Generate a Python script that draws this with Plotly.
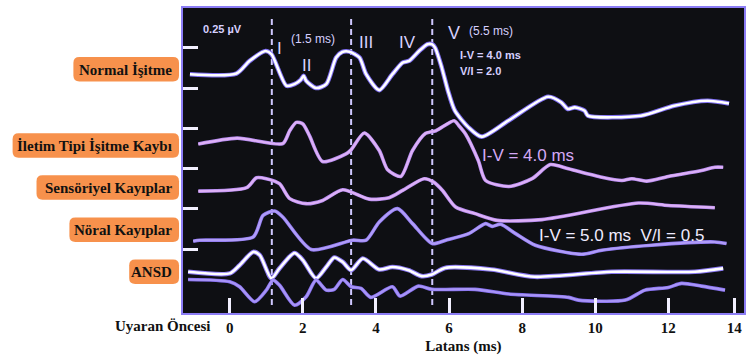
import plotly.graph_objects as go

# ---------------- data (latency in ms, amplitude in µV, offset per trace) ----------------
normal_t = [-1.09, 0.18, 0.545, 0.98, 1.14, 1.55, 1.77, 1.94, 2.02, 2.09, 2.36, 2.64, 2.91, 3.08, 3.27,
            3.55, 3.73, 4.09, 4.45, 4.73, 4.91, 5.18, 5.41, 5.54, 5.62, 5.80, 5.97, 6.16, 6.53, 6.89,
            7.62, 8.71, 9.07, 9.25, 9.44, 9.71, 9.80, 11.25, 12.16, 13.07, 13.66]
normal_a = [1.587, 1.591, 1.670, 1.731, 1.711, 1.515, 1.525, 1.552, 1.577, 1.546, 1.501, 1.525, 1.690, 1.725, 1.727,
            1.690, 1.587, 1.488, 1.587, 1.659, 1.670, 1.731, 1.773, 1.772, 1.750, 1.628, 1.484, 1.360, 1.257, 1.199,
            1.298, 1.447, 1.412, 1.371, 1.381, 1.360, 1.329, 1.329, 1.391, 1.422, 1.405]

conductive_t = [-0.86, 0.20, 1.45, 1.64, 1.82, 2.00, 2.18, 2.54, 3.18, 3.32, 3.68, 4.09, 4.32, 4.68, 5.00,
                5.36, 5.64, 6.14, 6.27, 6.45, 6.80, 7.00, 7.64, 8.27, 8.77, 9.27, 10.18, 10.73, 11.00,
                11.41, 12.00, 12.91, 13.27, 13.50]
conductive_a = [1.153, 1.190, 1.156, 1.236, 1.288, 1.278, 1.205, 1.045, 1.092, 1.117, 1.222, 1.113, 0.993, 0.952, 1.113,
                1.220, 1.236, 1.298, 1.267, 1.216, 1.051, 0.927, 0.890, 0.938, 1.026, 0.999, 0.947, 0.927, 0.938,
                0.923, 0.952, 0.989, 1.009, 1.009]

sensory_t = [-0.86, 0.46, 0.73, 1.00, 1.36, 1.64, 2.09, 2.54, 3.09, 3.82, 4.36, 4.73, 5.32, 5.59, 5.82,
             6.18, 6.71, 7.32, 8.54, 11.18, 12.00, 13.27]
sensory_a = [0.861, 0.882, 0.944, 0.938, 0.907, 0.814, 0.783, 0.803, 0.869, 0.811, 0.820, 0.865, 0.938, 0.915, 0.865,
             0.762, 0.721, 0.679, 0.684, 0.787, 0.772, 0.758]

neural_t = [-1.00, -0.82, 0.64, 0.91, 1.23, 1.45, 2.23, 3.36, 3.73, 4.09, 4.59, 5.00, 5.54, 5.91, 6.54,
            7.00, 7.18, 7.41, 7.82, 8.36, 9.63, 10.18, 11.54, 13.27, 13.59]
neural_a = [0.550, 0.556, 0.576, 0.710, 0.737, 0.700, 0.498, 0.556, 0.556, 0.669, 0.752, 0.659, 0.535, 0.556, 0.597,
            0.659, 0.642, 0.655, 0.597, 0.525, 0.469, 0.494, 0.525, 0.545, 0.535]

ansd_c_t = [-1.14, 0.00, 0.27, 0.64, 0.82, 1.14, 1.36, 1.77, 2.00, 2.36, 2.64, 2.86, 3.09, 3.32, 3.64,
            4.09, 4.45, 4.89, 5.25, 5.53, 5.89, 7.16, 8.34, 10.45, 12.73, 13.50]
ansd_c_a = [0.360, 0.350, 0.401, 0.483, 0.463, 0.319, 0.381, 0.477, 0.432, 0.319, 0.390, 0.449, 0.421, 0.370, 0.442,
            0.374, 0.390, 0.370, 0.333, 0.343, 0.384, 0.374, 0.329, 0.360, 0.360, 0.381]

ansd_r_t = [-1.14, 0.00, 0.27, 0.68, 1.00, 1.18, 1.36, 1.77, 2.09, 2.36, 2.64, 2.86, 3.09, 3.32, 3.59,
            3.86, 4.45, 4.66, 5.16, 5.53, 6.71, 7.64, 9.27, 9.54, 10.82, 11.36, 12.00, 12.36, 12.91, 13.55]
ansd_r_a = [0.312, 0.298, 0.267, 0.174, 0.246, 0.308, 0.277, 0.153, 0.205, 0.308, 0.246, 0.251, 0.312, 0.267, 0.257,
            0.201, 0.267, 0.209, 0.271, 0.251, 0.251, 0.222, 0.201, 0.184, 0.184, 0.246, 0.263, 0.288, 0.271, 0.246]

peak_latencies = [1.15, 3.32, 5.54]          # dashed markers for waves I, III, V
tick_pos = [0, 2, 4, 6, 8, 10, 12, 13.8]
tick_text = ["0", "2", "4", "6", "8", "10", "12", "14"]
scale_ticks = [0.5, 0.75, 1.0, 1.25, 1.5, 1.75]

row_labels = ["Normal İşitme", "İletim Tipi İşitme Kaybı", "Sensöriyel Kayıplar", "Nöral Kayıplar", "ANSD"]

# ---------------- figure ----------------
W, H = 752, 360
ML, MR, MT, MB = 183, 6, 7, 47
PW, PH = W - ML - MR, H - MT - MB

fig = go.Figure()

def add_wave(t, a, core, width, halo=None, halo_w=None):
    if halo:
        fig.add_trace(go.Scatter(x=t, y=a, mode="lines", line=dict(color=halo, width=halo_w, shape="spline", smoothing=0.7),
                                 hoverinfo="skip", showlegend=False))
    fig.add_trace(go.Scatter(x=t, y=a, mode="lines", line=dict(color=core, width=width, shape="spline", smoothing=0.7),
                             showlegend=False))

add_wave(normal_t, normal_a, "#FFFFFF", 2.6, "#7F6FF2", 4.6)
add_wave(conductive_t, conductive_a, "#DDB0F7", 2.2, "#B48AEE", 3.6)
add_wave(sensory_t, sensory_a, "#DDB0F7", 2.2, "#B48AEE", 3.6)
add_wave(neural_t, neural_a, "#B09CF8", 2.2, "#8E78F0", 3.6)
add_wave(ansd_c_t, ansd_c_a, "#FFFFFF", 2.6, "#8A78F2", 4.6)
add_wave(ansd_r_t, ansd_r_a, "#A894F7", 2.2, "#846EEE", 3.6)

shapes = []
for lat in peak_latencies:
    shapes.append(dict(type="line", xref="x", yref="y", x0=lat, x1=lat, y0=0.153, y1=1.948,
                       line=dict(color="#CFC8FF", width=2, dash="6px,4px"), layer="below"))

def px2paper_x(px):
    return (px - ML) / PW

def px2paper_y(py):
    return (H - MB - py) / PH

def rounded_box(x0, y0, x1, y1, r=6):
    X0, X1 = px2paper_x(x0), px2paper_x(x1)
    Y0, Y1 = px2paper_y(y0), px2paper_y(y1)   # Y0 top, Y1 bottom
    rx, ry = r / PW, r / PH
    p = (f"M {X0+rx},{Y0} L {X1-rx},{Y0} Q {X1},{Y0} {X1},{Y0-ry} "
         f"L {X1},{Y1+ry} Q {X1},{Y1} {X1-rx},{Y1} "
         f"L {X0+rx},{Y1} Q {X0},{Y1} {X0},{Y1+ry} "
         f"L {X0},{Y0-ry} Q {X0},{Y0} {X0+rx},{Y0} Z")
    return dict(type="path", xref="paper", yref="paper", path=p,
                fillcolor="#F7914C", line=dict(width=0), layer="above")

box_lefts = [73, 12, 36, 69, 129]
box_centers = [68.5, 145, 187, 229.5, 271.5]
annotations = []
for lab, left, cy in zip(row_labels, box_lefts, box_centers):
    shapes.append(rounded_box(left, cy - 12.3, 179, cy + 12.3))
    annotations.append(dict(xref="paper", yref="paper", x=px2paper_x(174), y=px2paper_y(cy + 0.5),
                            xanchor="right", yanchor="middle", showarrow=False, text=lab,
                            font=dict(family="Liberation Serif", size=15, color="#111111", weight="bold")))

annotations.append(dict(xref="paper", yref="paper", x=px2paper_x(212), y=px2paper_y(326),
                        xanchor="right", yanchor="middle", showarrow=False, text="Uyaran Öncesi",
                        font=dict(family="Liberation Serif", size=15, color="#111111", weight="bold")))

def lab(x, y, text, size, anchor="center", color="#D6D0FF", bold=False):
    annotations.append(dict(xref="x", yref="y", x=x, y=y, text=text, showarrow=False, xanchor=anchor,
                            yanchor="middle",
                            font=dict(family="Liberation Sans", size=size, color=color,
                                      weight="bold" if bold else "normal")))

lab(-0.19, 1.868, "0.25 µV", 11, bold=True)
lab(1.36, 1.744, "I", 17)
lab(2.28, 1.806, "(1.5 ms)", 12)
lab(2.09, 1.639, "II", 17)
lab(3.73, 1.783, "III", 17)
lab(4.86, 1.783, "IV", 17)
lab(6.14, 1.845, "V", 18)
lab(7.14, 1.855, "(5.5 ms)", 12)
lab(6.24, 1.707, "I-V = 4.0 ms", 11, anchor="left", bold=True)
lab(6.24, 1.608, "V/I = 2.0", 11, anchor="left", bold=True)
lab(6.86, 1.082, "I-V = 4.0 ms", 17, anchor="left", color="#D4A8F5")
lab(8.40, 0.587, "I-V = 5.0 ms  V/I = 0.5", 17, anchor="left", color="#EEEAFF")

fig.update_layout(
    width=W, height=H,
    margin=dict(l=ML, r=MR, t=MT, b=MB),
    paper_bgcolor="#FFFFFF",
    plot_bgcolor="#0E0F13",
    showlegend=False,
    shapes=shapes,
    annotations=annotations,
    xaxis=dict(range=[-1.28, 14.07], tickvals=tick_pos, ticktext=tick_text,
               ticks="inside", ticklen=15, tickwidth=3, tickcolor="#F2F0FF",
               showgrid=False, zeroline=False, showline=True, linecolor="#8C7DF5", linewidth=2,
               mirror=True, ticklabelstandoff=0,
               tickfont=dict(family="Liberation Serif", size=15, color="#111111", weight="bold"),
               title=dict(text="Latans (ms)", standoff=5,
                          font=dict(family="Liberation Serif", size=15, color="#111111", weight="bold"))),
    yaxis=dict(range=[0.104, 1.998], tickvals=scale_ticks, showticklabels=False,
               ticks="inside", ticklen=15, tickwidth=3, tickcolor="#F2F0FF",
               showgrid=False, zeroline=False, showline=True, linecolor="#8C7DF5", linewidth=2,
               mirror=True),
)

fig.write_html("out.html", config={"displayModeBar": False},
               post_script="document.body.style.margin='0px';")
